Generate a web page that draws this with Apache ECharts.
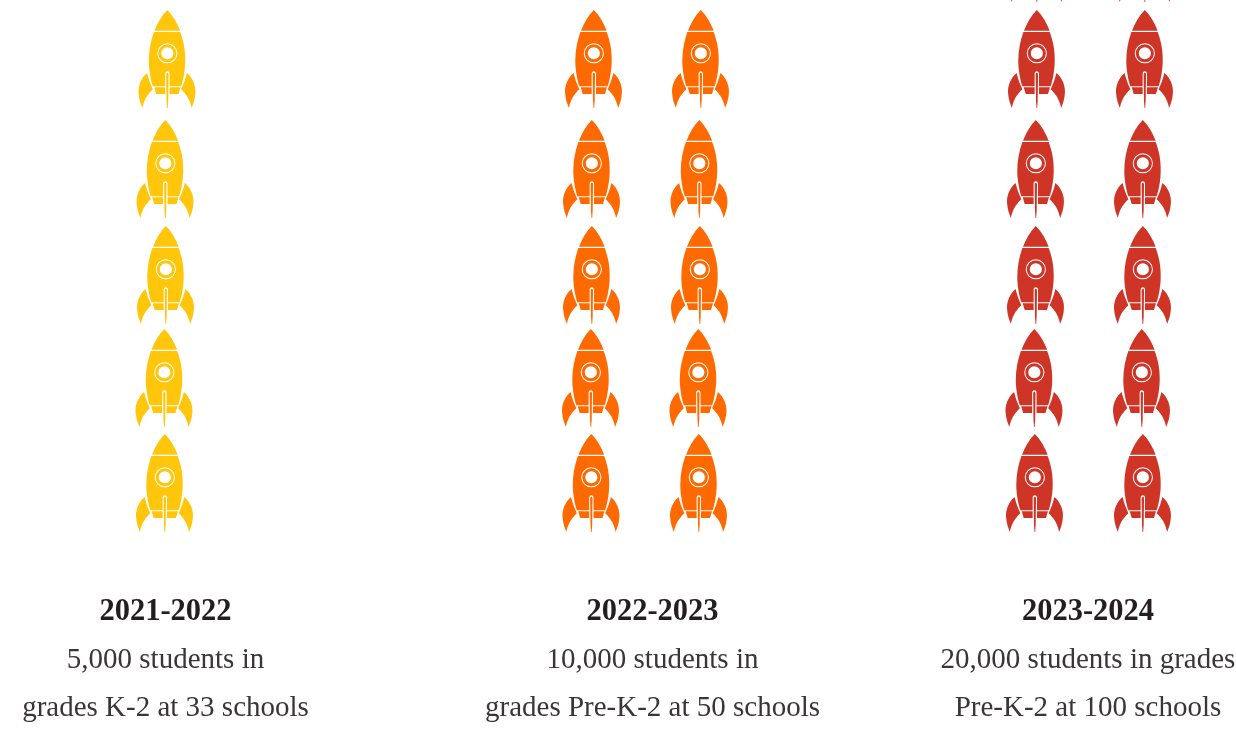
<!DOCTYPE html>
<html><head><meta charset="utf-8">
<style>html,body{margin:0;padding:0;background:#fff}#c{width:1236px;height:731px}</style>
<script src="https://cdn.jsdelivr.net/npm/echarts@6/dist/echarts.min.js"></script>
</head><body><div id="c"></div>
<script>
const years = ['2021-2022','2022-2023','2023-2024'];
const line1 = ['5,000 students in','10,000 students in','20,000 students in grades'];
const line2 = ['grades K-2 at 33 schools','grades Pre-K-2 at 50 schools','Pre-K-2 at 100 schools'];
const textCentres = [165.5,652.5,1088];
const colours = ['#FFC60B','#FF6A00','#CF3527'];
// rocket centres: [x, y]
const rockets2122 = [[167,59],[165,169],[165.5,275],[164,378],[164.5,483]];
const rockets2223 = [[593.5,59],[700.5,59],[591.5,169],[699,169],[591.5,275],[699.5,275],[590.5,378],[698,378],[591,483],[698.5,483]];
const rockets2324 = [[1036.5,-47],[1144.5,-47],[1036.5,59],[1144.5,59],[1035.5,169],[1142.5,169],[1035.5,275],[1142.5,275],[1034,378],[1141.5,378],[1034.5,483],[1142.5,483]];

const rocket = 'path://' +
 'M142 28C125 45 112 68 104 90L180 90C172 68 159 45 142 28Z' +
 'M102 94L180 94C190 120 196 150 195 180C195 205 190 235 183 257L148.5 257L148.5 220Q148.5 212 142 212Q135.5 212 135.5 220L135.5 257L99 257C92 235 87 205 87 180C87 150 93 120 102 94Z' +
 'M172 158A30 30 0 0 0 112 158A30 30 0 0 0 172 158Z' +
 'M115 158A27 27 0 0 1 169 158A27 27 0 0 1 115 158Z' +
 'M160 158A18 18 0 0 0 124 158A18 18 0 0 0 160 158Z' +
 'M103 260L135.5 260L135.5 280L109 280Z' +
 'M148.5 260L181 260L175 280L148.5 280Z' +
 'M142 216Q145.5 216 145.5 221L144.5 300L143 322L141 322L139.5 300L138.5 221Q138.5 216 142 216Z' +
 'M82 217C64 232 54 258 57 280C58 295 63 310 68 322C72 300 82 282 99 266C92 250 86 235 82 217Z' +
 'M200 217C218 232 228 258 225 280C224 295 219 310 214 322C210 300 200 282 183 266C190 250 196 235 200 217Z';

const serif = '"Liberation Serif", serif';
const ink = '#231F20', inkLight = '#3a3637';
const titles = [];
years.forEach((y,i)=>{
  titles.push({text:y,left:textCentres[i],top:597,padding:0,textAlign:'center',textStyle:{fontFamily:serif,fontSize:30.5,fontWeight:'bold',color:ink}});
  titles.push({text:line1[i],left:textCentres[i],top:646,padding:0,textAlign:'center',textStyle:{fontFamily:serif,fontSize:29,fontWeight:'normal',color:inkLight}});
  titles.push({text:line2[i],left:textCentres[i],top:694,padding:0,textAlign:'center',textStyle:{fontFamily:serif,fontSize:29,fontWeight:'normal',color:inkLight}});
});
const mk = (name,data,c)=>({name,type:'scatter',data,symbol:rocket,symbolSize:[57,98],symbolKeepAspect:false,clip:false,silent:true,itemStyle:{color:c,opacity:1}});
const chart = echarts.init(document.getElementById('c'),null,{renderer:'canvas'});
chart.setOption({
  animation:false,backgroundColor:'#fff',title:titles,
  grid:{left:0,right:0,top:0,bottom:0},
  xAxis:{type:'value',min:0,max:1236,show:false},
  yAxis:{type:'value',min:0,max:731,inverse:true,show:false},
  series:[mk(years[0],rockets2122,colours[0]),mk(years[1],rockets2223,colours[1]),mk(years[2],rockets2324,colours[2])]
});
</script></body></html>
